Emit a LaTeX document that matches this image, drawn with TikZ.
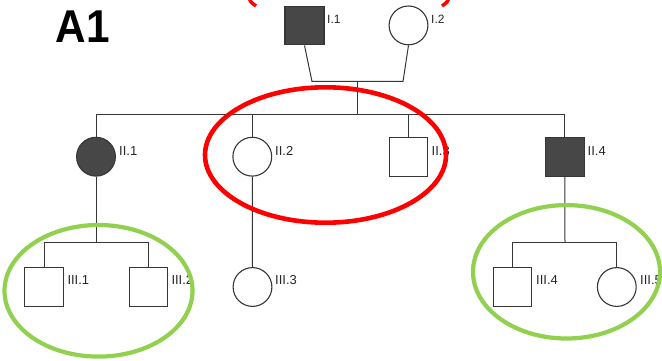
\documentclass[tikz,border=0pt]{standalone}
\usepackage{fontspec}
\setmainfont{Liberation Sans}
\definecolor{linegray}{HTML}{363636}
\definecolor{affected}{HTML}{474747}
\definecolor{ringred}{HTML}{FF0000}
\definecolor{ringgreen}{HTML}{92D050}
\tikzset{
  person/.style={draw=linegray, line width=1.1pt, inner sep=0pt, fill=white},
  male/.style={person, rectangle, minimum width=38.5pt, minimum height=38.5pt},
  female/.style={person, circle, minimum size=38.8pt},
  sick/.style={fill=affected},
  tag/.style={anchor=west, inner sep=0pt, text=black!85,
    font=\fontsize{13}{13}\selectfont},
  link/.style={draw=linegray, line width=1pt},
  redring/.style={draw=ringred, line width=4.6pt},
  greenring/.style={draw=ringgreen, line width=4.2pt}
}
\begin{document}
\begin{tikzpicture}[x=1pt, y=-1pt]
\useasboundingbox (0,0) rectangle (662,361);
\clip (0,0) rectangle (662,361);

% panel title
\node[anchor=base west, inner sep=0pt, xscale=0.92,
      font=\fontsize{46}{46}\selectfont\bfseries] (title) at (55.5,43) {A1};

% generation I
\node[male, sick, minimum height=38.3pt, minimum width=39pt] (I1) at (304.5,25.8) {};
\node[female] (I2) at (408.5,25.4) {};
\node[tag, font=\fontsize{12}{12}\selectfont] (lI1) at (327,19.5) {I.1};
\node[tag, font=\fontsize{12}{12}\selectfont] (lI2) at (431,19.5) {I.2};

% generation II
\node[female, sick] (II1) at (96,156.7) {};
\node[female] (II2) at (252.3,156.7) {};
\node[male] (II3) at (408.5,156.8) {};
\node[male, sick] (II4) at (564.8,156.8) {};
\node[tag] (lII1) at (119,150.7) {II.1};
\node[tag] (lII2) at (275,150.7) {II.2};
\node[tag] (lII3) at (431.5,150.7) {II.3};
\node[tag] (lII4) at (587.5,150.7) {II.4};

% generation III
\node[male] (III1) at (44,287) {};
\node[male] (III2) at (148.3,287) {};
\node[female] (III3) at (252.5,287) {};
\node[male] (III4) at (512.5,287) {};
\node[female] (III5) at (616.8,287) {};
\node[tag] (lIII1) at (67.3,280.3) {III.1};
\node[tag] (lIII2) at (171.3,280.3) {III.2};
\node[tag] (lIII3) at (275,280.3) {III.3};
\node[tag] (lIII4) at (536,280.3) {III.4};
\node[tag] (lIII5) at (640,280.3) {III.5};

% junction points of the pedigree lines
\coordinate (mL) at (312,81.5);
\coordinate (mR) at (403,81.5);
\coordinate (mC) at (357.7,81.5);
\coordinate (sII) at (357.7,114.3);
\coordinate (sIIIa) at (96,242.3);
\coordinate (sIIIb) at (565,242.2);

% mating line and descent
\draw[link] (I1.south) -- (mL) -- (mR) -- (I2.south);
\draw[link] (mC) -- (sII);
% sibship of generation II
\draw[link] (II1.north) |- (sII) -| (II4.north);
\draw[link] (II2.north) -- (II2.north |- sII);
\draw[link] (II3.north) -- (II3.north |- sII);
% offspring of II.1
\draw[link] (II1.south) -- (sIIIa);
\draw[link] (III1.north) |- (sIIIa) -| (III2.north);
% offspring of II.2
\draw[link] (II2.south) -- (III3.north);
% offspring of II.4
\draw[link] (II4.south) -- (sIIIb);
\draw[link] (III4.north) |- (sIIIb) -| (III5.north);

% highlight rings
\draw[redring] (325.5,155) ellipse [x radius=120.5, y radius=67.7];
\draw[greenring] (98.5,290.8) ellipse [x radius=94, y radius=65.8];
\draw[greenring] (566.5,271.8) ellipse [x radius=93.5, y radius=66.7];

% red brackets cut by the top edge
\draw[ringred, line width=3.5pt] (249,-3) .. controls (250.5,2) .. (256,6);
\draw[ringred, line width=3.5pt] (449,-3) .. controls (447.5,2) .. (442,6);
\end{tikzpicture}
\end{document}
